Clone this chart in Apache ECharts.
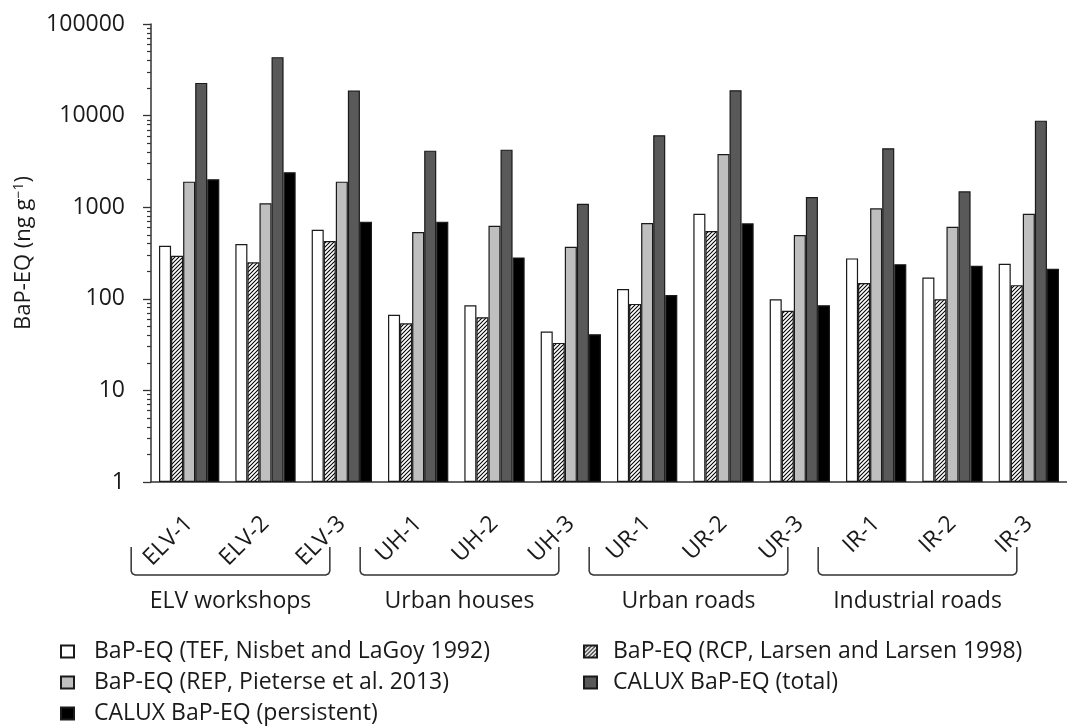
<!DOCTYPE html>
<html>
<head>
<meta charset="utf-8">
<script src="https://cdn.jsdelivr.net/npm/echarts@6/dist/echarts.min.js"></script>
<style>html,body{margin:0;padding:0;background:#fff}#c{width:1067px;height:727px}</style>
</head>
<body>
<div id="c"></div>
<script>
// ---- data ----
var categories = ['ELV-1','ELV-2','ELV-3','UH-1','UH-2','UH-3','UR-1','UR-2','UR-3','IR-1','IR-2','IR-3'];
var groupNames = ['ELV workshops','Urban houses','Urban roads','Industrial roads'];
var seriesNames = [
  'BaP-EQ (TEF, Nisbet and LaGoy 1992)',
  'BaP-EQ (RCP, Larsen and Larsen 1998)',
  'BaP-EQ (REP, Pieterse et al. 2013)',
  'CALUX BaP-EQ (total)',
  'CALUX BaP-EQ (persistent)'
];
var tefValues        = [380, 396, 568, 67, 85, 44, 128, 849, 99, 276, 171, 241];
var rcpValues        = [295, 250, 427, 54, 63, 33, 88, 550, 74, 149, 99, 141];
var repValues        = [1900, 1104, 1900, 535, 628, 370, 671, 3814, 497, 973, 612, 849];
var caluxTotal       = [22760, 43450, 18750, 4143, 4250, 1092, 6107, 18930, 1292, 4400, 1492, 8810];
var caluxPersistent  = [2018, 2406, 695, 695, 283, 41, 110, 667, 85, 239, 229, 213];
var yTickLabels      = [1, 10, 100, 1000, 10000, 100000];

var minorTicks = [];
for (var d = 1; d < 100000; d *= 10) { for (var m = 2; m <= 9; m++) minorTicks.push(d * m); }

// hatch pattern
var pc = document.createElement('canvas');
pc.width = 4; pc.height = 4;
var g = pc.getContext('2d');
g.fillStyle = '#fff'; g.fillRect(0,0,4,4);
g.strokeStyle = '#000'; g.lineWidth = 1.05;
g.beginPath();
g.moveTo(-1,5); g.lineTo(5,-1);
g.moveTo(-3,3); g.lineTo(3,-3);
g.moveTo(1,7); g.lineTo(7,1);
g.stroke();
var hatch = { image: pc, repeat: 'repeat' };

var FONT = 'Open Sans';
var TXT = '#1a1a1a';
var fills = ['#ffffff', hatch, '#bfbfbf', '#595959', '#000000'];
var datas = [tefValues, rcpValues, repValues, caluxTotal, caluxPersistent];

var series = seriesNames.map(function (n, i) {
  return {
    name: n, type: 'bar', data: datas[i],
    barGap: '0%', barCategoryGap: '21%',
    itemStyle: { color: fills[i], borderColor: '#1a1a1a', borderWidth: 1.2 },
    emphasis: { disabled: true }
  };
});

var legendText = { fontSize: 23, lineHeight: 23, color: TXT, fontFamily: FONT };

var chart = echarts.init(document.getElementById('c'), null, { renderer: 'canvas' });
chart.setOption({
  animation: false,
  textStyle: { fontFamily: FONT },
  grid: { left: 151, top: 24, bottom: 245, right: -9, containLabel: false },
  xAxis: {
    type: 'category', data: categories,
    axisLine: { lineStyle: { color: '#333', width: 1.5 } },
    axisTick: { length: 8, interval: 0, lineStyle: { color: '#333', width: 1.3 } },
    axisLabel: { interval: 0, rotate: 45, margin: 38, fontSize: 23, color: TXT, fontFamily: FONT }
  },
  yAxis: [{
    type: 'log', logBase: 10, min: 1, max: 100000,
    splitLine: { show: false },
    axisLine: { show: true, lineStyle: { color: '#333', width: 1.5 } },
    axisTick: { show: true, length: 8, lineStyle: { color: '#333', width: 1.3 } },
    axisLabel: { fontSize: 23, color: TXT, margin: 26, fontFamily: FONT,
      customValues: yTickLabels, formatter: function (v) { return String(Math.round(v)); } },
    name: 'BaP-EQ (ng g{sup|\u22121})',
    nameLocation: 'middle', nameGap: 114, nameRotate: 90,
    nameTextStyle: { fontSize: 22, color: TXT, fontFamily: FONT,
      rich: { sup: { fontSize: 14, verticalAlign: 'top', padding: [0,0,11,0], fontFamily: FONT, color: TXT } } }
  }, {
    type: 'log', logBase: 10, min: 1, max: 100000, position: 'left',
    splitLine: { show: false },
    axisLine: { show: false },
    axisLabel: { show: false },
    axisTick: { show: true, length: 4, customValues: minorTicks, lineStyle: { color: '#333', width: 1.2 } }
  }],
  legend: [{
    data: [seriesNames[0], seriesNames[2], seriesNames[4]],
    orient: 'vertical', left: 60, top: 640, padding: 0, icon: 'rect',
    itemWidth: 13, itemHeight: 12, itemGap: 8,
    selectedMode: false,
    textStyle: Object.assign({ padding: [0,0,0,15] }, legendText)
  }, {
    data: [seriesNames[1], seriesNames[3]],
    orient: 'vertical', left: 583, top: 640, padding: 0, icon: 'rect',
    itemWidth: 13, itemHeight: 12, itemGap: 8,
    selectedMode: false,
    textStyle: Object.assign({ padding: [0,0,0,11] }, legendText)
  }],
  series: series
});

// brackets and group labels from the category axis
var elems = [];
groupNames.forEach(function (name, gi) {
  var l = chart.convertToPixel({ xAxisIndex: 0 }, categories[gi * 3]) - 58;
  var r = chart.convertToPixel({ xAxisIndex: 0 }, categories[gi * 3 + 2]) - 12;
  var t = 547, b = 575;
  elems.push({
    type: 'polyline',
    shape: { points: [[l, t], [l, b - 4], [l + 1.2, b - 1.2], [l + 4, b], [r - 4, b], [r - 1.2, b - 1.2], [r, b - 4], [r, t]] },
    style: { fill: null, stroke: '#333', lineWidth: 1.5 }
  });
  elems.push({
    type: 'text', x: (l + r) / 2, y: 601,
    style: { text: name, fontSize: 23, fontFamily: FONT, fill: TXT, align: 'center', verticalAlign: 'middle' }
  });
});
chart.setOption({ graphic: elems });
</script>
</body>
</html>
